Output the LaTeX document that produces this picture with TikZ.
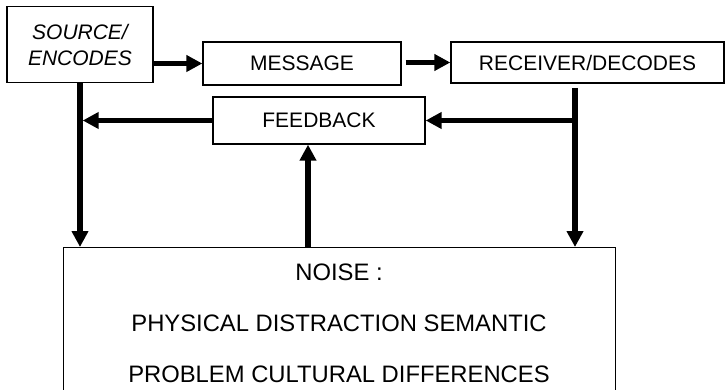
\documentclass[tikz,border=0pt]{standalone}
\usepackage{fontspec}
\setmainfont{Liberation Sans}
\usetikzlibrary{arrows.meta}

\begin{document}
\begin{tikzpicture}[x=1pt,y=-1pt,
  box/.style={draw,line width=1.3pt,inner sep=0pt,font=\fontsize{21}{25}\selectfont},
  arr/.style={line width=5.5pt,-{Triangle[length=16pt,width=16pt]}},
  noisetext/.style={anchor=base,inner sep=0pt,font=\fontsize{23.8}{28}\selectfont}]
\useasboundingbox (0,0) rectangle (725,390);
\clip (0,0) rectangle (725,390);
% boxes
\node[box,minimum width=146pt,minimum height=76pt,align=center,font=\itshape\fontsize{21}{26}\selectfont] (src) at (80,44.5) {SOURCE/\\ENCODES};
\node[box,minimum width=198pt,minimum height=43pt] (msg) at (302,63.5) {MESSAGE};
\node[box,minimum width=273pt,minimum height=41pt] (rcv) at (587.5,62.5) {RECEIVER/DECODES};
\node[box,minimum width=212pt,minimum height=47pt] (fb) at (319,120.5) {FEEDBACK};
\node[box,minimum width=552pt,minimum height=170pt,anchor=north west] (noise) at (63,247) {};
\node[noisetext] (noise1) at (339,280) {NOISE :};
\node[noisetext] (noise2) at (339,331) {PHYSICAL DISTRACTION SEMANTIC};
\node[noisetext] (noise3) at (339,382) {PROBLEM CULTURAL DIFFERENCES};
% free ends
\coordinate (mgap) at ([xshift=4pt]msg.east);
\coordinate (rtop) at (575,88);
\coordinate (mid) at (308,247);
% arrows
\draw[arr] (src.east |- msg.west) -- (msg.west);
\draw[arr] (mgap |- rcv.west) -- (rcv.west);
\draw[arr] (src.south) -- (src.south |- noise.north);
\draw[arr,shorten >=2.7pt] (fb.west) -- (fb.west -| src.south);
\draw[arr] (rtop) -- (rtop |- noise.north);
\draw[arr] (rtop |- fb.east) -- (fb.east);
\draw[arr] (mid) -- (mid |- fb.south);
\end{tikzpicture}
\end{document}
